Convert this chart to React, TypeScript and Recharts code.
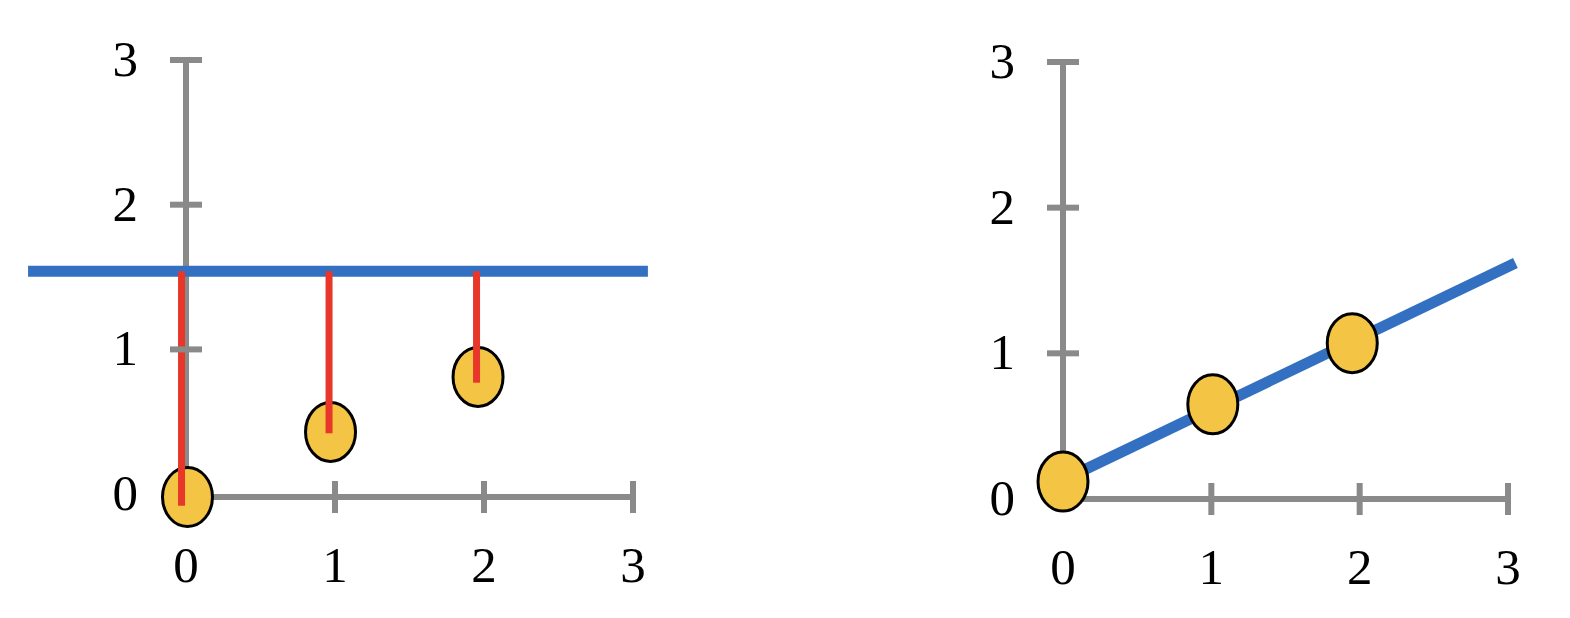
import { ComposedChart, Scatter, XAxis, YAxis, ReferenceLine } from 'recharts';

// tick values shared by both panels
const ticks = [0, 1, 2, 3];

// left panel: horizontal fit with residuals
const leftPointX = [0.01, 0.97, 1.96];
const leftPointY = [-0.02, 0.43, 0.81];
const leftFitY = 1.54;
const leftFitFrom = -1.06;
const leftFitTo = 3.1;
const residualX = [-0.03, 0.96, 1.95];
const residualEnd = [-0.08, 0.42, 0.77];

// right panel: sloped fit
const rightPointX = [0.0, 1.01, 1.95];
const rightPointY = [0.12, 0.65, 1.07];
const rightFitStart = { x: 0.0, y: 0.13 };
const rightFitEnd = { x: 3.05, y: 1.62 };

const GRAY = '#8a8a8a';
const BLUE = '#3470c1';
const RED = '#e8372a';
const YELLOW = '#f4c444';
const FONT = '"Liberation Serif", "DejaVu Serif", serif';

const leftPoints = leftPointX.map((x, i) => ({ x, y: leftPointY[i] }));
const rightPoints = rightPointX.map((x, i) => ({ x, y: rightPointY[i] }));

function Ellipse(props: any) {
  const { cx, cy } = props;
  return (
    <ellipse
      cx={cx}
      cy={cy}
      rx={25}
      ry={29.5}
      fill={YELLOW}
      stroke='#000'
      strokeWidth={3}
    />
  );
}

// tick at 0 sits under the origin marker, so only its label is drawn
function XTick(props: any) {
  const { x, y, payload } = props;
  return (
    <g>
      {payload.value !== 0 && (
        <line x1={x} y1={y - 16} x2={x} y2={y + 16} stroke={GRAY} strokeWidth={6} />
      )}
      <text
        x={x}
        y={y + 85}
        textAnchor='middle'
        fontSize={51}
        fontFamily={FONT}
        fill='#000'
      >
        {payload.value}
      </text>
    </g>
  );
}

function YTick(props: any) {
  const { x, y, payload } = props;
  return (
    <g>
      {payload.value !== 0 && (
        <line x1={x - 16} y1={y} x2={x + 16} y2={y} stroke={GRAY} strokeWidth={6} />
      )}
      <text
        x={x - 48}
        y={y + 16}
        textAnchor='end'
        fontSize={51}
        fontFamily={FONT}
        fill='#000'
      >
        {payload.value}
      </text>
    </g>
  );
}

export default function App() {
  const axisProps = {
    type: 'number' as const,
    domain: [0, 3],
    ticks,
    tickSize: 0,
    tickMargin: 0,
    axisLine: { stroke: GRAY, strokeWidth: 6 },
    interval: 0 as const,
    zIndex: 0,
  };

  return (
    <div
      style={{
        position: 'absolute',
        top: 0,
        left: 0,
        width: 1570,
        height: 618,
        background: '#fff',
      }}
    >
      <div style={{ position: 'absolute', left: 0, top: 0 }}>
        <ComposedChart
          width={785}
          height={618}
          margin={{ top: 60, left: 185, right: 152, bottom: 120 }}
          style={{ overflow: 'visible' }}
        >
          <XAxis dataKey='x' height={1} tick={<XTick />} {...axisProps} />
          <YAxis dataKey='y' width={1} tick={<YTick />} {...axisProps} />
          <ReferenceLine
            segment={[
              { x: leftFitFrom, y: leftFitY },
              { x: leftFitTo, y: leftFitY },
            ]}
            stroke={BLUE}
            strokeWidth={11}
            ifOverflow='visible'
            zIndex={100}
          />
          <Scatter
            data={leftPoints}
            shape={<Ellipse />}
            isAnimationActive={false}
            zIndex={600}
          />
          {residualX.map((x, i) => (
            <ReferenceLine
              key={i}
              segment={[
                { x, y: leftFitY },
                { x, y: residualEnd[i] },
              ]}
              stroke={RED}
              strokeWidth={7}
              ifOverflow='visible'
              zIndex={800}
            />
          ))}
        </ComposedChart>
      </div>
      <div style={{ position: 'absolute', left: 785, top: 0 }}>
        <ComposedChart
          width={785}
          height={618}
          margin={{ top: 62, left: 277, right: 62, bottom: 118 }}
          style={{ overflow: 'visible' }}
        >
          <XAxis dataKey='x' height={1} tick={<XTick />} {...axisProps} />
          <YAxis dataKey='y' width={1} tick={<YTick />} {...axisProps} />
          <ReferenceLine
            segment={[rightFitStart, rightFitEnd]}
            stroke={BLUE}
            strokeWidth={11}
            ifOverflow='visible'
            zIndex={100}
          />
          <Scatter
            data={rightPoints}
            shape={<Ellipse />}
            isAnimationActive={false}
            zIndex={600}
          />
        </ComposedChart>
      </div>
    </div>
  );
}
